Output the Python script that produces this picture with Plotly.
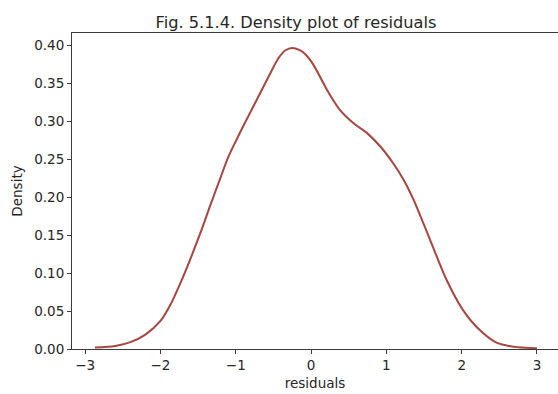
import plotly.graph_objects as go

# Data
residuals = [-2.87, -2.6, -2.4, -2.2, -2.0, -1.87, -1.74, -1.61, -1.47, -1.34,
             -1.21, -1.10, -1.00, -0.90, -0.74, -0.57, -0.43, -0.34, -0.25, -0.15,
             -0.08, 0.03, 0.21, 0.385, 0.56, 0.74, 0.92, 1.09, 1.23, 1.36,
             1.58, 1.80, 2.02, 2.24, 2.47, 2.69, 3.0]
density = [0.002, 0.004, 0.009, 0.019, 0.037, 0.058, 0.086, 0.117, 0.153, 0.189,
           0.224, 0.253, 0.274, 0.294, 0.325, 0.358, 0.384, 0.394, 0.397, 0.394,
           0.389, 0.375, 0.342, 0.315, 0.298, 0.285, 0.267, 0.245, 0.223, 0.197,
           0.144, 0.091, 0.051, 0.025, 0.008, 0.003, 0.001]

x_ticks = [-3, -2, -1, 0, 1, 2, 3]
x_tick_text = ["\u22123", "\u22122", "\u22121", "0", "1", "2", "3"]
y_ticks = [0.0, 0.05, 0.10, 0.15, 0.20, 0.25, 0.30, 0.35, 0.40]

font_family = "DejaVu Sans"
text_color = "#262626"
axis_color = "#3a3a3a"

fig = go.Figure()
fig.add_trace(go.Scatter(
    x=residuals, y=density, mode="lines",
    line=dict(color="#a8453f", width=2, shape="spline", smoothing=0.8),
    hoverinfo="skip", showlegend=False,
))

fig.update_layout(
    width=558, height=394, autosize=False,
    margin=dict(l=72, r=0, t=33, b=45, pad=0),
    paper_bgcolor="white", plot_bgcolor="white",
    font=dict(family=font_family, size=14, color=text_color),
    title=dict(text="Fig. 5.1.4. Density plot of residuals",
               x=0.461, xref="paper", xanchor="center",
               y=1, yref="paper", yanchor="bottom", pad=dict(b=5),
               font=dict(family=font_family, size=16.2, color=text_color)),
    xaxis=dict(range=[-3.175, 3.279], tickvals=x_ticks, ticktext=x_tick_text,
               showgrid=False, zeroline=False,
               showline=True, linecolor=axis_color, linewidth=1, mirror=True,
               ticks="outside", ticklen=4, tickcolor=axis_color, tickwidth=1,
               tickfont=dict(size=13.5),
               title=dict(text="residuals", standoff=6, font=dict(size=13.5))),
    yaxis=dict(range=[0, 0.4167], tickvals=y_ticks, tickformat=".2f",
               showgrid=False, zeroline=False,
               showline=True, linecolor=axis_color, linewidth=1, mirror=True,
               ticks="outside", ticklen=4, tickcolor=axis_color, tickwidth=1,
               tickfont=dict(size=13.5),
               title=dict(text="Density", standoff=8, font=dict(size=13.5))),
)

fig.write_html("out.html")
